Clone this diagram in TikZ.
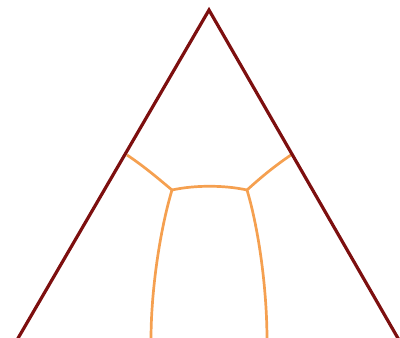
\documentclass[tikz,border=0pt]{standalone}
\begin{document}
\begin{tikzpicture}[x=1pt,y=-1pt,
  edge/.style={draw={rgb,255:red,125;green,15;blue,15},line width=3.2pt},
  vein/.style={draw={rgb,255:red,245;green,160;blue,80},line width=2.7pt}]
\useasboundingbox (0,0) rectangle (400,338);
\coordinate (apex) at (209,10);
\coordinate (bl) at (17,340);
\coordinate (br) at (399,340);
\coordinate (pl) at (127,155);
\coordinate (pr) at (291,155);
\coordinate (jl) at (172,190);
\coordinate (jr) at (247,190);
\coordinate (el) at (151,340);
\coordinate (er) at (267,340);
\draw[vein] (pl) .. controls (145,167) and (160,180) .. (jl);
\draw[vein] (pr) .. controls (273,167) and (258,180) .. (jr);
\draw[vein] (jl) .. controls (195,185) and (224,185) .. (jr);
\draw[vein] (jl) .. controls (160,230) and (151,290) .. (el);
\draw[vein] (jr) .. controls (259,230) and (267,290) .. (er);
\draw[edge,line join=miter] (bl) -- (apex) -- (br);
\end{tikzpicture}
\end{document}
